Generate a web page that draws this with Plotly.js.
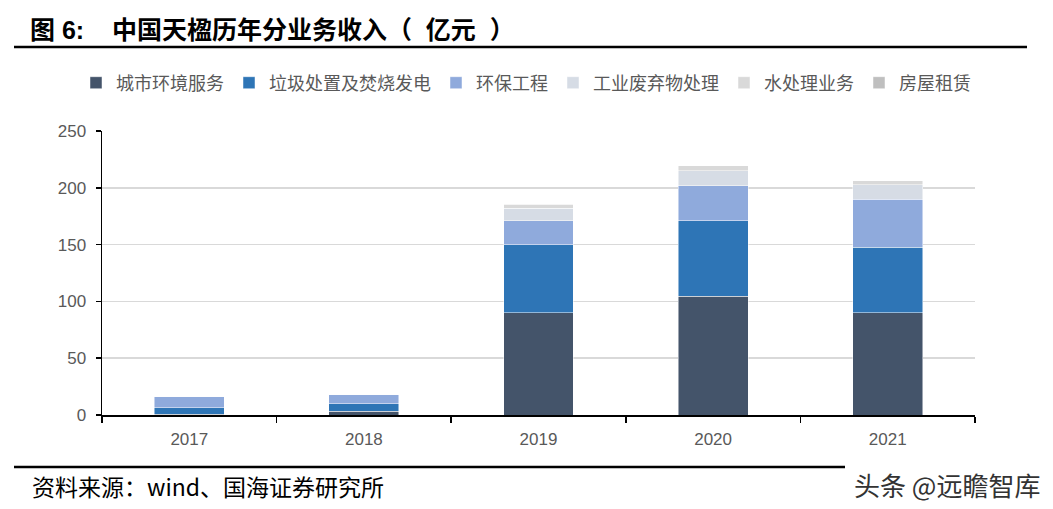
<!DOCTYPE html>
<html>
<head>
<meta charset="utf-8">
<script src="https://cdn.plot.ly/plotly-3.0.1.min.js"></script>
<style>html,body{margin:0;padding:0;background:#fff;}#chart{width:1053px;height:509px;}</style>
</head>
<body>
<div id="chart"></div>
<script>
const years = ['2017', '2018', '2019', '2020', '2021'];
const seriesNames = ['城市环境服务', '垃圾处置及焚烧发电', '环保工程', '工业废弃物处理', '水处理业务', '房屋租赁'];
const cityEnv    = [0.5, 3.2, 90.0, 104.5, 90.0];
const wasteFire  = [5.9, 6.8, 60.0, 66.5, 57.6];
const envEng     = [10.2, 8.2, 21.0, 30.6, 42.3];
const industrial = [0, 0, 11.0, 13.2, 12.6];
const water      = [0, 0, 3.7, 4.4, 3.5];
const rental     = [0, 0, 0.3, 0.3, 0.3];
const seriesValues = [cityEnv, wasteFire, envEng, industrial, water, rental];
const colors = ['#44546A', '#2E75B6', '#8FAADC', '#D6DCE5', '#D9D9D9', '#BFBFBF'];
const yTicks = [0, 50, 100, 150, 200, 250];

const font = 'Liberation Sans, Arial, Noto Sans CJK SC, sans-serif';
const cjk = 'Noto Sans CJK SC, Liberation Sans, sans-serif';

const traces = seriesNames.map((n, i) => ({
  type: 'bar', name: n, x: years, y: seriesValues[i],
  marker: {color: colors[i], line: {color: 'rgba(255,255,255,0.6)', width: 0.8}},
  hoverinfo: 'skip'
}));

const L = 102, R = 975, T = 131, B = 415;
const px2x = p => (p - L) / (R - L);
const py2y = p => (B - p) / (B - T);

const layout = {
  width: 1053, height: 509,
  margin: {l: L, r: 1053 - R, t: T, b: 509 - B, pad: 0},
  paper_bgcolor: '#fff', plot_bgcolor: '#fff',
  barmode: 'stack', bargap: 0.6,
  showlegend: true,
  legend: {
    orientation: 'h', x: px2x(76), xanchor: 'left', y: py2y(83), yanchor: 'middle',
    font: {family: cjk, size: 18, color: '#595959'},
    traceorder: 'normal', itemwidth: 30, tracegroupgap: 0
  },
  title: {
    text: '<b>图 6:\u00A0\u00A0\u00A0\u00A0中国天楹历年分业务收入（\u00A0\u00A0亿元\u00A0\u00A0）</b>',
    x: 30 / 1053, xanchor: 'left', xref: 'container',
    y: 1 - 30 / 509, yanchor: 'middle', yref: 'container',
    font: {family: font, size: 25, color: '#000'}
  },
  xaxis: {
    type: 'category', showline: true, linecolor: '#000', linewidth: 1.5,
    ticks: 'outside', tickson: 'boundaries', ticklen: 6, tickcolor: '#000', tickwidth: 1.5,
    tickfont: {family: font, size: 17, color: '#595959'},
    ticklabelstandoff: 8,
    showgrid: false, zeroline: false, fixedrange: true
  },
  yaxis: {
    range: [0, 250], tickvals: yTicks, showline: true, linecolor: '#000', linewidth: 1.5,
    ticks: 'outside', ticklen: 5, tickcolor: '#000', tickwidth: 1.5,
    tickfont: {family: font, size: 17, color: '#595959'},
    showgrid: true, gridcolor: '#D9D9D9', gridwidth: 1.5, zeroline: false,
    ticklabelstandoff: 6, fixedrange: true
  },
  shapes: [
    {type: 'line', xref: 'paper', yref: 'paper', x0: px2x(14), x1: px2x(1027), y0: py2y(47), y1: py2y(47), line: {color: '#000', width: 2.5}},
    {type: 'line', xref: 'paper', yref: 'paper', x0: px2x(14), x1: px2x(845), y0: py2y(467), y1: py2y(467), line: {color: '#000', width: 2.5}}
  ],
  annotations: [
    {text: '资料来源：wind、国海证券研究所', xref: 'paper', yref: 'paper', x: px2x(30), y: py2y(486), xanchor: 'left', yanchor: 'middle', showarrow: false, font: {family: cjk, size: 23, color: '#000'}},
    {text: '头条 @远瞻智库', xref: 'paper', yref: 'paper', x: px2x(1042), y: py2y(484), xanchor: 'right', yanchor: 'middle', showarrow: false, font: {family: cjk, size: 26, color: '#333'}}
  ]
};

Plotly.newPlot('chart', traces, layout, {displayModeBar: false, staticPlot: true});
</script>
</body>
</html>
